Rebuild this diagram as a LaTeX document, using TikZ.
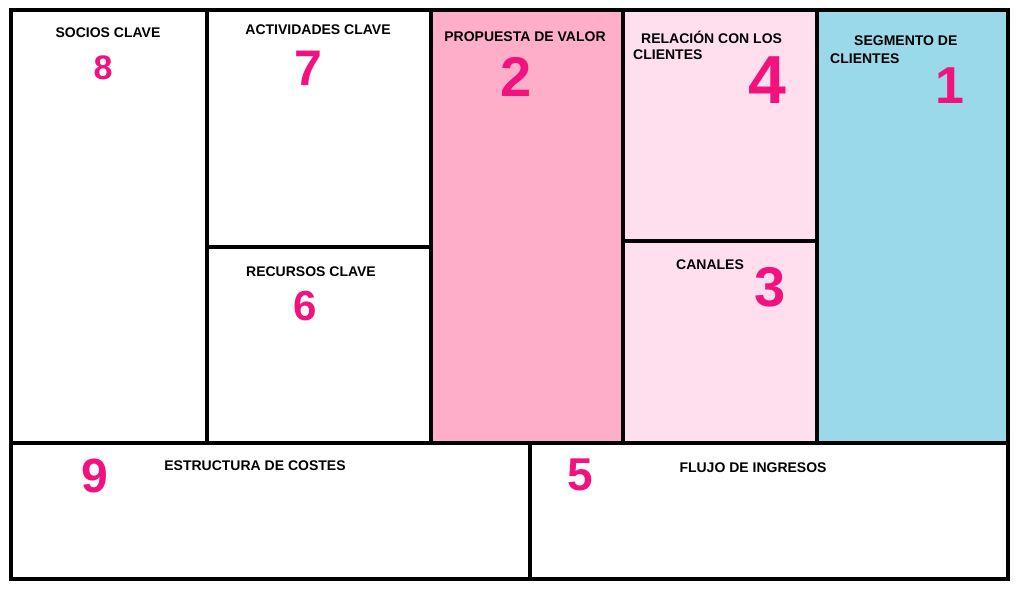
\documentclass[tikz,border=0pt]{standalone}
\usepackage{fontspec}
\setmainfont{Liberation Sans}
\definecolor{valor}{HTML}{FFAEC9}
\definecolor{rel}{HTML}{FFDFEE}
\definecolor{seg}{HTML}{99D9EA}
\definecolor{num}{HTML}{F2127E}
\tikzset{
  cellline/.style={line width=4.5pt, draw=black},
  lbl/.style={font=\fontsize{14}{16}\selectfont\bfseries, inner sep=0pt},
  numb/.style={text=num, font=\fontsize{#1}{#1}\selectfont\bfseries, inner sep=0pt},
}
\begin{document}
\begin{tikzpicture}[x=1pt,y=-1pt]
\useasboundingbox (0,0) rectangle (1016,589);
\fill[white] (0,0) rectangle (1016,589);
% coordinates
\coordinate (TL) at (11,10);
\coordinate (BR) at (1008,579);
% fills
\fill[valor] (431,10) rectangle (623,443);
\fill[rel] (623,10) rectangle (817,443);
\fill[seg] (817,10) rectangle (1008,443);
% lines
\draw[cellline] (TL) rectangle (BR);
\draw[cellline] (11,443) -- (1008,443);
\draw[cellline] (207,10) -- (207,443);
\draw[cellline] (431,10) -- (431,443);
\draw[cellline] (623,10) -- (623,443);
\draw[cellline] (817,10) -- (817,443);
\draw[cellline] (207,247) -- (431,247);
\draw[cellline] (623,241) -- (817,241);
\draw[cellline] (530,443) -- (530,579);
% labels
\node[lbl] (socios) at (108,33) {SOCIOS CLAVE};
\node[lbl] (activ) at (318,30) {ACTIVIDADES CLAVE};
\node[lbl] (prop) at (525,37) {PROPUESTA DE VALOR};
\node[lbl, anchor=west] (rel1) at (641,37) {RELACIÓN CON LOS};
\node[lbl, anchor=west] (rel2) at (633,55) {CLIENTES};
\node[lbl, anchor=west] (seg1) at (854,41) {SEGMENTO DE};
\node[lbl, anchor=west] (seg2) at (830,59) {CLIENTES};
\node[lbl] (recur) at (311,272) {RECURSOS CLAVE};
\node[lbl] (canal) at (710,265) {CANALES};
\node[lbl] (costes) at (255,466) {ESTRUCTURA DE COSTES};
\node[lbl] (ingr) at (753,468) {FLUJO DE INGRESOS};
% numbers
\node[numb=34] (n8) at (103,68) {8};
\node[numb=50] (n7) at (308,68) {7};
\node[numb=56] (n2) at (516,77) {2};
\node[numb=68] (n4) at (767,80) {4};
\node[numb=52] (n1) at (950,86) {1};
\node[numb=42] (n6) at (305,306) {6};
\node[numb=56] (n3) at (770,287) {3};
\node[numb=48] (n9) at (95,476) {9};
\node[numb=46] (n5) at (580,475) {5};
\end{tikzpicture}
\end{document}
